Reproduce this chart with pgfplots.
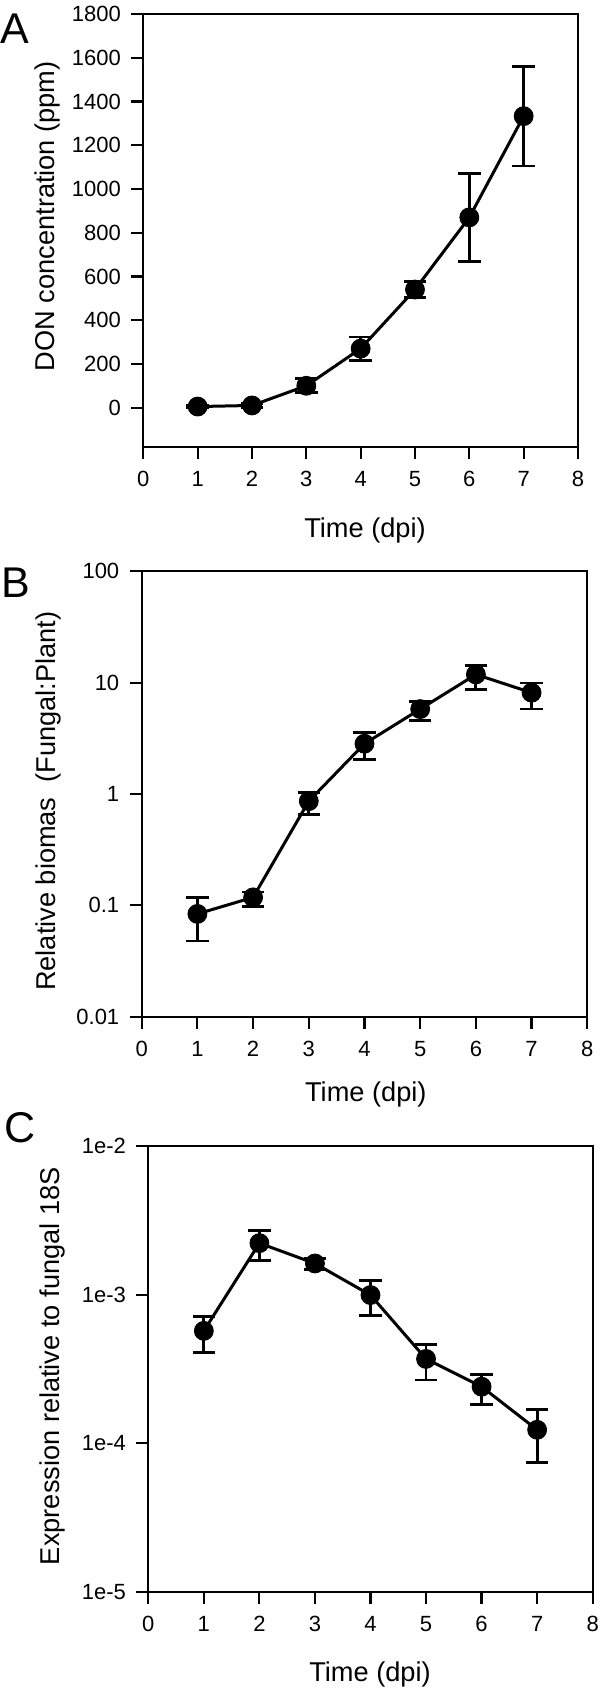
\documentclass[border=0pt]{standalone}
\usepackage{fontspec}
\setmainfont{Liberation Sans}
\usepackage{pgfplots}
\usepackage{pgfplotstable}
\pgfplotsset{compat=1.18}

\pgfplotstableread{
x y ep em
1 5 5 5
2 10 8 8
3 100 32 32
4 270 53 53
5 540 38 38
6 870 200 200
7 1333 228 228
}\dataA

\pgfplotstableread{
x y ep em
1 0.0838 0.0342 0.0360
2 0.118 0.014 0.0195
3 0.863 0.167 0.211
4 2.83 0.73 0.80
5 5.79 0.98 1.22
6 11.85 2.45 3.10
7 8.13 1.80 2.34
}\dataB

\pgfplotstableread{
x y ep em
1 5.70e-4 1.44e-4 1.64e-4
2 2.22e-3 0.47e-3 0.52e-3
3 1.62e-3 0.13e-3 0.14e-3
4 9.93e-4 2.47e-4 2.70e-4
5 3.69e-4 0.93e-4 1.03e-4
6 2.40e-4 0.51e-4 0.57e-4
7 1.23e-4 0.46e-4 0.487e-4
}\dataC

\pgfplotsset{
  panel/.style={
    scale only axis,
    xmin=0, xmax=8, xtick={0,1,...,8},
    axis line style={line width=1.1pt, black},
    tick align=outside, tick pos=left,
    major tick length=6pt,
    every tick/.style={black, line width=1.1pt},
    tick label style={font=\fontsize{11}{13}\selectfont},
    label style={font=\fontsize{13.6}{16}\selectfont},
    /pgf/number format/assume math mode=true,
    /pgf/number format/1000 sep={},
    xticklabel style={yshift=-2.7pt},
    yticklabel style={xshift=-1.7pt},
    clip=false,
  },
  series/.style={
    black, line width=1.5pt, mark=*, mark size=4.7pt,
    mark options={fill=black, line width=0.5pt},
    /pgfplots/error bars/y dir=both,
    /pgfplots/error bars/y explicit,
    /pgfplots/error bars/error bar style={line width=1.4pt, black},
    /pgfplots/error bars/error mark options={rotate=90, mark size=5.6pt, line width=1.4pt, black},
  },
}

\begin{document}
\begin{tikzpicture}
\useasboundingbox (0,0) rectangle (300pt,-846pt);

% Panel A
\begin{axis}[panel,
  at={(71.65pt,-223.5pt)}, anchor=south west,
  width=217.35pt, height=216.5pt,
  ymin=-180, ymax=1800, ytick={0,200,...,1800},
  xlabel={Time (dpi)}, ylabel={DON concentration (ppm)},
  xlabel style={at={(axis description cs:0.510,-0.1917)}, anchor=center},
  ylabel style={at={(axis description cs:-0.2197,0.533)}, anchor=center},
]
\addplot[series] table[x=x, y=y, y error plus=ep, y error minus=em] {\dataA};
\end{axis}

% Panel B
\begin{axis}[panel,
  at={(70.85pt,-508.35pt)}, anchor=south west,
  width=222.8pt, height=222.7pt,
  ymode=log, ymin=0.01, ymax=100,
  ytick={0.01,0.1,1,10,100}, yticklabels={0.01,0.1,1,10,100},
  yminorticks=false,
  xlabel={Time (dpi)}, ylabel={Relative biomas\ \ (Fungal:Plant)},
  xlabel style={at={(axis description cs:0.503,-0.174)}, anchor=center},
  ylabel style={at={(axis description cs:-0.2085,0.484)}, anchor=center},
]
\addplot[series] table[x=x, y=y, y error plus=ep, y error minus=em] {\dataB};
\end{axis}

% Panel C
\begin{axis}[panel,
  at={(74.15pt,-795.85pt)}, anchor=south west,
  width=222.2pt, height=222.85pt,
  ymode=log, ymin=1e-5, ymax=1e-2,
  ytick={1e-5,1e-4,1e-3,1e-2}, yticklabels={1e-5,1e-4,1e-3,1e-2},
  yminorticks=false,
  xlabel={Time (dpi)}, ylabel={Expression relative to fungal 18S},
  xlabel style={at={(axis description cs:0.499,-0.185)}, anchor=center},
  ylabel style={at={(axis description cs:-0.216,0.506)}, anchor=center},
]
\addplot[series] table[x=x, y=y, y error plus=ep, y error minus=em] {\dataC};
\end{axis}

\node[anchor=base west, inner sep=0pt, font=\fontsize{21.5}{24}\selectfont] at (0pt,-21.65pt) {A};
\node[anchor=base west, inner sep=0pt, font=\fontsize{21.5}{24}\selectfont] at (0.4pt,-298.75pt) {B};
\node[anchor=base west, inner sep=0pt, font=\fontsize{21.5}{24}\selectfont] at (2pt,-571pt) {C};
\end{tikzpicture}
\end{document}
